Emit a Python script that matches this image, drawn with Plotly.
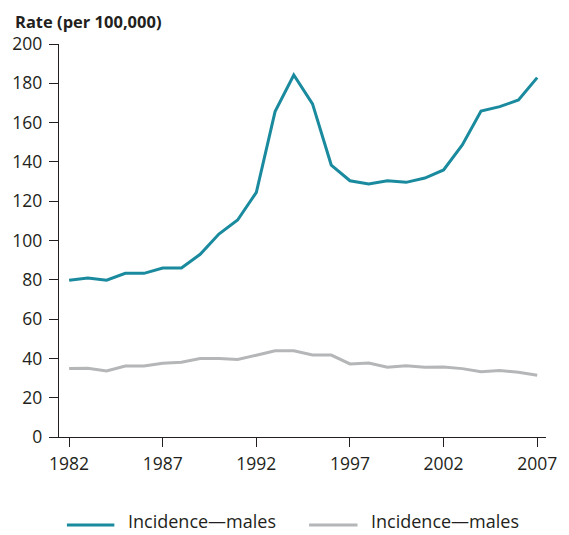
import plotly.graph_objects as go

years = list(range(1982, 2008))
teal_values = [79.8, 80.9, 79.8, 83.3, 83.3, 86.0, 86.0, 93.0, 103.3, 110.4, 124.5, 165.6, 184.2,
               169.5, 138.4, 130.4, 128.8, 130.4, 129.6, 131.8, 135.9, 148.6, 165.9, 168.1, 171.5, 182.9]
gray_values = [34.8, 35.0, 33.6, 36.1, 36.1, 37.5, 38.0, 39.9, 39.9, 39.5, 41.6, 43.9, 43.9,
               41.7, 41.7, 37.2, 37.7, 35.5, 36.3, 35.5, 35.6, 34.8, 33.2, 33.9, 32.9, 31.4]
series_names = ["Incidence\u2014males", "Incidence\u2014males"]
x_ticks = [1982, 1987, 1992, 1997, 2002, 2007]
y_ticks = list(range(0, 201, 20))

TEAL = "#1a8a9e"
GRAY = "#b4b6b8"
FONT = "Open Sans"
AXIS = "#231f20"

fig = go.Figure()
fig.add_trace(go.Scatter(x=years, y=teal_values, mode="lines", name=series_names[0],
                         line=dict(color=TEAL, width=3), showlegend=False))
fig.add_trace(go.Scatter(x=years, y=gray_values, mode="lines", name=series_names[1],
                         line=dict(color=GRAY, width=3), showlegend=False))

fig.update_layout(
    width=569, height=535,
    margin=dict(l=59, r=17, t=44, b=98),
    paper_bgcolor="white", plot_bgcolor="white",
    font=dict(family=FONT, size=17.5, color="#231f20"),
    xaxis=dict(range=[1981.46, 2007.47], tickvals=x_ticks, ticks="outside", ticklen=9,
               tickwidth=1.3, tickcolor=AXIS, showline=True, linecolor=AXIS, linewidth=1.3,
               showgrid=False, zeroline=False, ticklabelstandoff=2),
    yaxis=dict(range=[0, 200], tickvals=y_ticks, ticks="outside", ticklen=9,
               tickwidth=1.3, tickcolor=AXIS, showline=True, linecolor=AXIS, linewidth=1.3,
               showgrid=False, zeroline=False, ticklabelstandoff=3),
)

fig.add_annotation(text="<b>Rate (per 100,000)</b>", xref="paper", yref="paper",
                   x=-59/492.7 + 12/492.7, y=1 + 23/393, xanchor="left", yanchor="middle",
                   showarrow=False, font=dict(size=16.5, family=FONT))

line_y = -88/393
text_y = -84/393
legend_items = [(8, 56, 68, TEAL, series_names[0]), (253, 302, 314, GRAY, series_names[1])]
for x0, x1, xt, col, name in legend_items:
    fig.add_shape(type="line", xref="paper", yref="paper", x0=x0/492.7, x1=x1/492.7,
                  y0=line_y, y1=line_y, line=dict(color=col, width=3))
    fig.add_annotation(text=name, xref="paper", yref="paper", x=xt/492.7, y=text_y,
                       xanchor="left", yanchor="middle", showarrow=False,
                       font=dict(size=18, family=FONT))

fig.write_html("out.html", post_script="document.body.style.margin='0';",
               config={"displayModeBar": False})
